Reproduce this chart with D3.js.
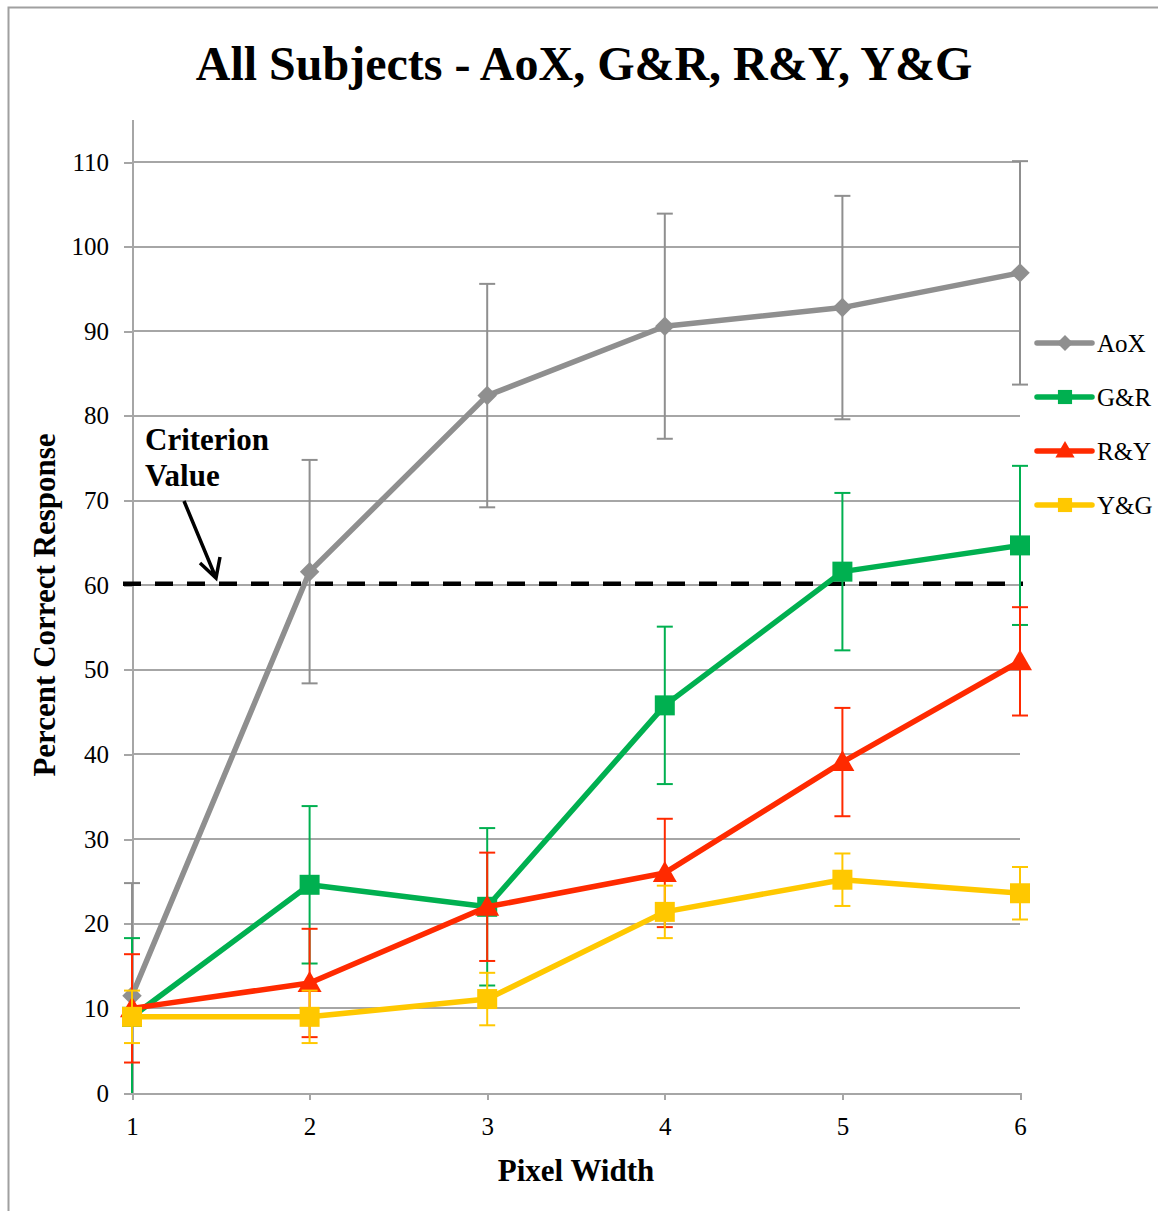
<!DOCTYPE html>
<html>
<head>
<meta charset="utf-8">
<script src="https://cdn.jsdelivr.net/npm/d3@7"></script>
<style>
  body { margin: 0; background: #fff; }
  svg { display: block; font-family: "Liberation Serif", "Times New Roman", serif; }
  .grid line { stroke: #a6a6a6; stroke-width: 2; shape-rendering: crispEdges; }
  .axis path, .axis line { stroke: #a6a6a6; stroke-width: 2; shape-rendering: crispEdges; }
  .axis text { fill: #000; font-size: 25px; font-family: "Liberation Serif", "Times New Roman", serif; }
</style>
</head>
<body>
<div id="chart"></div>
<script>
// pixel widths on the x axis
const pixelWidths = [1, 2, 3, 4, 5, 6];
const yTicks = [0, 10, 20, 30, 40, 50, 60, 70, 80, 90, 100, 110];

// mean percent correct per series
const aoxValues = [11.5, 61.6, 82.4, 90.6, 92.8, 96.9];
const grValues  = [9.0, 24.6, 22.0, 45.8, 61.6, 64.7];
const ryValues  = [10.0, 13.0, 22.0, 26.0, 39.1, 51.0];
const ygValues  = [9.0, 9.0, 11.1, 21.4, 25.2, 23.6];

// error bar half widths
const aoxErr = [13.3, 13.2, 13.2, 13.3, 13.2, 13.2];
const grErr  = [9.3, 9.3, 9.3, 9.3, 9.3, 9.4];
const ryErr  = [6.4, 6.4, 6.4, 6.4, 6.4, 6.4];
const ygErr  = [3.1, 3.1, 3.1, 3.1, 3.1, 3.1];

const criterion = 60;

const series = [
  { name: "AoX", values: aoxValues, err: aoxErr, color: "#8f8f8f", marker: "diamond" },
  { name: "G&R", values: grValues,  err: grErr,  color: "#00b050", marker: "square" },
  { name: "R&Y", values: ryValues,  err: ryErr,  color: "#ff2a00", marker: "triangle" },
  { name: "Y&G", values: ygValues,  err: ygErr,  color: "#ffc800", marker: "square" }
];

const width = 1158, height = 1211;
const left = 132, right = 1020, bottom = 1093;
const yMax = 115;

const svg = d3.select("#chart").append("svg")
    .attr("width", width)
    .attr("height", height);

// outer frame (only left and top edges fall inside the picture)
svg.append("path")
    .attr("d", `M8.5,${height} V7.5 H${width}`)
    .attr("fill", "none")
    .attr("stroke", "#a0a0a0")
    .attr("stroke-width", 2);

const xScale = d3.scaleLinear().domain([1, 6]).range([left, right]);
const yScale = d3.scaleLinear().domain([0, yMax]).range([bottom, bottom - yMax * (931 / 110)]);

// horizontal gridlines
svg.append("g")
    .attr("class", "grid")
    .selectAll("line")
    .data(yTicks.filter(d => d > 0))
    .join("line")
    .attr("x1", left)
    .attr("x2", right)
    .attr("y1", d => yScale(d))
    .attr("y2", d => yScale(d));

// y axis
const yAxis = d3.axisLeft(yScale).tickValues(yTicks).tickSize(8).tickPadding(15).tickSizeOuter(0);
svg.append("g")
    .attr("class", "axis")
    .attr("transform", `translate(${left},0)`)
    .call(yAxis);

// x axis
const xAxis = d3.axisBottom(xScale).tickValues(pixelWidths).tickFormat(d3.format("d"))
    .tickSize(7).tickPadding(17).tickSizeOuter(0);
svg.append("g")
    .attr("class", "axis")
    .attr("transform", `translate(0,${bottom})`)
    .call(xAxis);

// criterion value line
svg.append("line")
    .attr("x1", left - 9)
    .attr("x2", right + 3)
    .attr("y1", yScale(criterion) - 1.5)
    .attr("y2", yScale(criterion) - 1.5)
    .attr("stroke", "#000")
    .attr("stroke-width", 4.5)
    .attr("stroke-dasharray", "18,14");

function markerPath(type) {
  if (type === "triangle") return d3.symbol().type(d3.symbolTriangle).size(250)();
  if (type === "diamond") return d3.symbol().type(d3.symbolSquare).size(190)();
  return d3.symbol().type(d3.symbolSquare).size(400)();
}
function markerTransform(type, x, y) {
  if (type === "diamond") return `translate(${x},${y}) rotate(45)`;
  if (type === "triangle") return `translate(${x},${y + 2})`;
  return `translate(${x},${y})`;
}

const line = d3.line()
    .x((d, i) => xScale(pixelWidths[i]))
    .y(d => yScale(d));

series.forEach(s => {
  const g = svg.append("g");
  const bars = pixelWidths.map((p, i) => ({
    x: xScale(p),
    lo: s.values[i] - s.err[i],
    hi: s.values[i] + s.err[i]
  }));

  // error bars, clipped to the plot area
  g.selectAll(".bar")
      .data(bars)
      .join("line")
      .attr("x1", d => d.x)
      .attr("x2", d => d.x)
      .attr("y1", d => yScale(Math.max(0, d.lo)))
      .attr("y2", d => yScale(Math.min(yMax, d.hi)))
      .attr("stroke", s.color)
      .attr("stroke-width", 2);

  const caps = [];
  bars.forEach(d => {
    if (d.lo >= 0) caps.push({ x: d.x, v: d.lo });
    if (d.hi <= yMax) caps.push({ x: d.x, v: d.hi });
  });
  g.selectAll(".cap")
      .data(caps)
      .join("line")
      .attr("x1", d => d.x - 8)
      .attr("x2", d => d.x + 8)
      .attr("y1", d => yScale(d.v))
      .attr("y2", d => yScale(d.v))
      .attr("stroke", s.color)
      .attr("stroke-width", 2);

  g.append("path")
      .datum(s.values)
      .attr("d", line)
      .attr("fill", "none")
      .attr("stroke", s.color)
      .attr("stroke-width", 5.5)
      .attr("stroke-linejoin", "round");

  g.selectAll(".marker")
      .data(s.values)
      .join("path")
      .attr("d", markerPath(s.marker))
      .attr("transform", (d, i) => markerTransform(s.marker, xScale(pixelWidths[i]), yScale(d)))
      .attr("fill", s.color);
});

// legend
const legend = svg.append("g").attr("transform", "translate(1037,343)");
series.forEach((s, i) => {
  const row = legend.append("g").attr("transform", `translate(0,${i * 54})`);
  row.append("line")
      .attr("x1", 0).attr("x2", 55)
      .attr("stroke", s.color)
      .attr("stroke-width", 5.5)
      .attr("stroke-linecap", "round");
  const mp = s.marker === "diamond" ? d3.symbol().type(d3.symbolSquare).size(130)()
           : s.marker === "triangle" ? d3.symbol().type(d3.symbolTriangle).size(160)()
           : d3.symbol().type(d3.symbolSquare).size(200)();
  row.append("path")
      .attr("d", mp)
      .attr("transform", s.marker === "diamond" ? "translate(28,0) rotate(45)" : s.marker === "triangle" ? "translate(28,1)" : "translate(28,0)")
      .attr("fill", s.color);
  row.append("text")
      .attr("x", 60)
      .attr("y", 0)
      .attr("dy", "0.35em")
      .attr("font-size", 25)
      .attr("fill", "#000")
      .text(s.name);
});

// title
svg.append("text")
    .attr("x", 584)
    .attr("y", 80)
    .attr("text-anchor", "middle")
    .attr("font-size", 48)
    .attr("font-weight", "bold")
    .text("All Subjects - AoX, G&R, R&Y, Y&G");

// axis titles
svg.append("text")
    .attr("x", 576)
    .attr("y", 1181)
    .attr("text-anchor", "middle")
    .attr("font-size", 31)
    .attr("font-weight", "bold")
    .text("Pixel Width");

svg.append("text")
    .attr("transform", "translate(55,605) rotate(-90)")
    .attr("text-anchor", "middle")
    .attr("font-size", 31)
    .attr("font-weight", "bold")
    .text("Percent Correct Response");

// criterion annotation
const note = svg.append("text")
    .attr("x", 145)
    .attr("font-size", 31)
    .attr("font-weight", "bold");
note.append("tspan").attr("x", 145).attr("y", 450).text("Criterion");
note.append("tspan").attr("x", 145).attr("y", 486).text("Value");

svg.append("path")
    .attr("d", "M184,501 L216,578 M200,563 L216,578 L220,557")
    .attr("fill", "none")
    .attr("stroke", "#000")
    .attr("stroke-width", 3.5)
    .attr("stroke-linejoin", "miter");
</script>
</body>
</html>
